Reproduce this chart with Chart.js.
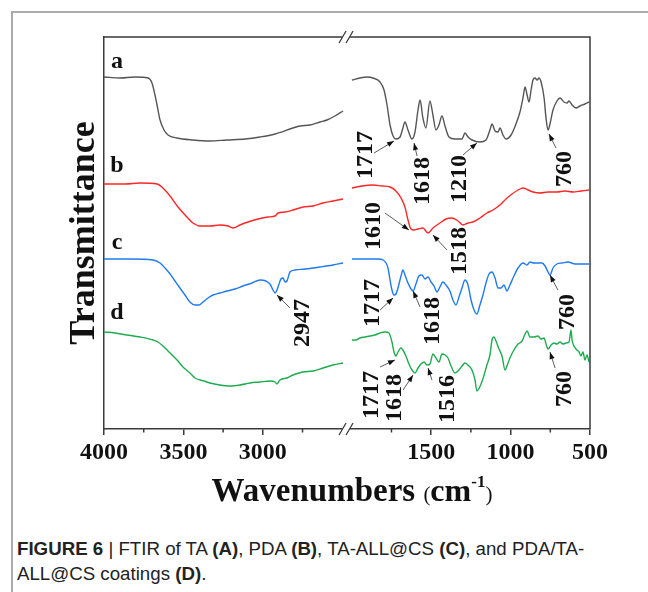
<!DOCTYPE html>
<html><head><meta charset="utf-8">
<script src="https://cdn.jsdelivr.net/npm/chart.js@4/dist/chart.umd.min.js"></script>
<style>
html,body{margin:0;padding:0;background:#fff;}
body{width:648px;height:592px;position:relative;overflow:hidden;}
#frame{position:absolute;left:11px;top:11px;width:660px;height:600px;border-left:2px solid #ababab;border-top:2px solid #ababab;}
#wrap{position:absolute;left:0;top:0;width:648px;height:520px;}
#caption{position:absolute;left:17px;top:536px;width:620px;font-family:"Liberation Sans",Arial,sans-serif;font-size:18.7px;line-height:25px;color:#222;white-space:nowrap;}
</style></head>
<body>
<div id="frame"></div>
<div id="wrap"><canvas id="c" width="648" height="520"></canvas></div>
<div id="caption"><b>FIGURE 6</b> | FTIR of TA <b>(A)</b>, PDA <b>(B)</b>, TA-ALL@CS <b>(C)</b>, and PDA/TA-<br>ALL@CS coatings <b>(D)</b>.</div>
<script>
// ---- tick labels (wavenumbers, cm-1) ----
const majorTicks = [4000, 3500, 3000, 1500, 1000, 500];
const minorTicks = [3750, 3250, 2750, 1750, 1250, 750];
const seriesNames = ['a', 'b', 'c', 'd'];

// ---- series a (TA) ----
const wnA = [4000,3899,3805,3723,3698,3679,3666,3647,3622,3597,
  3540,3440,3333,3226,3112,3018,2923,2810,2766,2703,
  2640,2596,2546,2495,
  1999,1948,1904,1866,1822,1797,1778,1759,1740,1722,
  1696,1678,1665,1646,1621,1602,1583,1570,1552,1533,
  1508,1489,1470,1451,1432,1413,1388,1350,1306,1287,
  1268,1243,1193,1155,1130,1117,1098,1079,1067,1048,
  1029,997,966,941,922,909,896,884,871,859,
  846,833,821,808,789,777,764,752,733,708,
  689,664,645,632,613,588,563,532,506];
const tA = [352,351,352,351,346,334,324,309,299,294,
  291,289,288,289,290,292,295,301,303,304,
  307,309,313,318,
  349,351,352,351,347,339,324,304,293,290,
  292,301,307,299,290,297,319,329,311,301,
  328,314,299,304,313,303,292,290,290,296,
  292,289,287,289,299,305,298,297,301,294,
  290,294,305,317,331,342,334,327,339,349,
  351,349,351,347,331,311,299,305,319,328,
  331,327,326,328,324,321,323,325,327];

// ---- series b (PDA) ----
const wnB = [4000,3868,3773,3666,3629,3584,3534,3484,3440,3396,
  3333,3270,3219,3188,3144,3093,3030,2967,2923,2904,
  2860,2810,2747,2684,2621,2558,2495,
  1999,1936,1866,1810,1759,1722,1690,1665,1646,1627,
  1608,1583,1552,1520,1489,1445,1407,1369,1331,1300,
  1268,1237,1193,1149,1111,1067,1029,991,953,922,
  890,859,815,764,708,658,607,557,506];
const tB = [245,245,246,245,241,233,222,213,206,203,
  203,204,203,201,204,207,210,212,213,216,
  217,219,222,223,226,228,230,
  241,243,244,243,242,238,231,222,209,200,
  199,200,201,196,201,206,210,211,208,204,
  206,207,211,216,219,224,230,235,239,241,
  239,237,236,237,237,238,237,238,239];

// ---- series c (TA-ALL@CS) ----
const wnC = [4000,3836,3691,3647,3616,3584,3553,3522,3490,3459,
  3427,3402,3377,3345,3314,3270,3226,3175,3125,3068,
  3018,2980,2955,2936,2923,2911,2898,2886,2873,2860,
  2848,2829,2797,2734,2640,2558,2495,
  1999,1917,1835,1803,1784,1772,1759,1747,1734,1722,
  1709,1690,1678,1665,1646,1627,1614,1596,1577,1558,
  1539,1520,1501,1482,1463,1445,1426,1407,1382,1363,
  1344,1325,1306,1287,1268,1249,1230,1212,1193,1174,
  1155,1136,1117,1098,1079,1060,1042,1023,1004,979,
  953,922,897,878,853,827,802,783,764,752,
  733,708,676,638,594,550,506];
const tC = [170,170,169,166,161,155,148,141,134,127,
  124,124,127,131,134,136,138,140,143,146,
  149,148,145,139,136,139,145,150,151,147,
  148,157,159,160,162,164,166,
  170,170,170,169,166,161,149,139,134,135,
  141,153,159,154,146,140,138,145,153,154,
  150,152,147,143,137,142,147,144,138,129,
  124,132,141,149,144,129,119,115,124,134,
  146,155,157,151,141,141,144,138,144,153,
  161,166,164,167,166,166,166,163,157,154,
  161,165,166,167,165,165,165];

// ---- series d (PDA/TA-ALL@CS) ----
const wnD = [4000,3931,3855,3773,3691,3660,3629,3584,3540,3503,
  3459,3427,3370,3333,3270,3207,3144,3081,3018,2955,
  2923,2911,2892,2848,2810,2747,2684,2621,2558,2495,
  1999,1973,1948,1917,1885,1854,1822,1791,1766,1747,
  1734,1722,1709,1690,1678,1659,1640,1621,1602,1583,
  1564,1545,1526,1508,1489,1470,1451,1432,1413,1394,
  1375,1350,1325,1306,1287,1262,1243,1224,1212,1186,
  1167,1149,1130,1117,1105,1092,1073,1054,1035,1023,
  1004,979,953,928,909,896,878,853,827,809,
  789,777,764,745,727,708,689,670,651,632,
  620,613,601,582,569,557,544,532,519,506];
const tD = [97,96,94,92,89,87,83,76,69,62,
  56,51,48,46,44,43,44,46,47,48,
  47,45,49,51,54,57,58,61,64,66,
  89,89,91,92,93,94,96,97,96,87,
  77,73,77,81,79,73,65,59,56,61,
  65,67,64,65,75,71,67,75,74,71,
  63,56,59,63,66,63,59,49,38,45,
  54,64,74,89,92,88,80,73,59,63,
  71,79,85,88,95,98,92,92,93,90,
  91,85,80,84,86,85,87,85,86,87,
  99,89,83,79,77,73,77,69,74,67];

// ---- peak annotations: label, arrow tip, arrow tail, label centre (wavenumber, transmittance units) ----
const annotationLayout = [
  {text:'1717', tip:[1734,288], from:[1860,276], at:[1917,274]},
  {text:'1618', tip:[1608,286], from:[1589,273], at:[1561,248]},
  {text:'1210', tip:[1212,286], from:[1300,274], at:[1328,250]},
  {text:'760',  tip:[758,295],  from:[714,281],  at:[667,260]},
  {text:'1610', tip:[1640,199], from:[1791,216], at:[1866,203]},
  {text:'1518', tip:[1489,194], from:[1400,179], at:[1328,178]},
  {text:'2947', tip:[2911,134], from:[2829,121], at:[2757,106]},
  {text:'1717', tip:[1740,131], from:[1822,119], at:[1873,126]},
  {text:'1618', tip:[1614,138], from:[1570,122], at:[1498,108]},
  {text:'760',  tip:[752,154],  from:[702,139],  at:[648,117]},
  {text:'1717', tip:[1728,69],  from:[1822,62],  at:[1879,34]},
  {text:'1618', tip:[1614,54],  from:[1677,39],  at:[1737,31]},
  {text:'1516', tip:[1520,61],  from:[1495,49],  at:[1404,30]},
  {text:'760',  tip:[752,77],   from:[720,61],   at:[667,40]}
];
const seriesLabelLayout = {wn: 3918, t: [361, 257, 180, 110]};

// broken axis: 4000-2500 on the left, 2000-500 on the right
const GAP = 60;
function toU(w){ return w > 2250 ? 4000 - w : 3500 + GAP - w; }
function fromU(u){ return u <= 1500 ? 4000 - u : 3500 + GAP - u; }
function build(wn, t){
  const out = [];
  for (let i = 0; i < wn.length; i++){
    if (i > 0 && wn[i-1] > 2250 && wn[i] <= 2250) out.push({x: 1530, y: null});
    out.push({x: toU(wn[i]), y: t[i]});
  }
  return out;
}

const SERIF = '"Liberation Serif","Times New Roman",serif';
const AX = '#3a3a3a';

const decor = {
  id: 'decor',
  afterDraw(chart){
    const ctx = chart.ctx, ca = chart.chartArea;
    const xs = chart.scales.x, ys = chart.scales.y;
    const px = w => xs.getPixelForValue(toU(w));
    const py = v => ys.getPixelForValue(v);
    ctx.save();
    // top & right frame of the plot box
    ctx.strokeStyle = AX; ctx.lineWidth = 1.5;
    ctx.beginPath();
    ctx.moveTo(ca.left, ca.top); ctx.lineTo(ca.right, ca.top); ctx.lineTo(ca.right, ca.bottom);
    ctx.stroke();
    // minor ticks
    ctx.beginPath();
    minorTicks.forEach(w => { const x = px(w); ctx.moveTo(x, ca.bottom); ctx.lineTo(x, ca.bottom + 3.5); });
    ctx.stroke();
    // axis breaks
    const cx = xs.getPixelForValue(1500 + GAP/2 - 6);
    [ca.top, ca.bottom].forEach(y => {
      ctx.fillStyle = '#fff';
      ctx.fillRect(cx - 4, y - 2, 8, 4);
      ctx.strokeStyle = AX; ctx.lineWidth = 1.3;
      ctx.beginPath();
      ctx.moveTo(cx - 7, y + 6); ctx.lineTo(cx, y - 6);
      ctx.moveTo(cx, y + 6); ctx.lineTo(cx + 7, y - 6);
      ctx.stroke();
    });
    // series labels
    ctx.fillStyle = '#111';
    ctx.font = 'bold 24px ' + SERIF;
    ctx.textAlign = 'center'; ctx.textBaseline = 'alphabetic';
    seriesNames.forEach((s, i) => ctx.fillText(s, px(seriesLabelLayout.wn), py(seriesLabelLayout.t[i])));
    // annotations
    annotationLayout.forEach(a => {
      const x1 = px(a.from[0]), y1 = py(a.from[1]);
      const x2 = px(a.tip[0]), y2 = py(a.tip[1]);
      ctx.strokeStyle = '#333'; ctx.lineWidth = 0.8;
      ctx.beginPath(); ctx.moveTo(x1, y1); ctx.lineTo(x2, y2); ctx.stroke();
      const ang = Math.atan2(y2 - y1, x2 - x1), L = 7, W = 2.6;
      ctx.fillStyle = '#111';
      ctx.beginPath();
      ctx.moveTo(x2, y2);
      ctx.lineTo(x2 - L*Math.cos(ang) + W*Math.sin(ang), y2 - L*Math.sin(ang) - W*Math.cos(ang));
      ctx.lineTo(x2 - L*Math.cos(ang) - W*Math.sin(ang), y2 - L*Math.sin(ang) + W*Math.cos(ang));
      ctx.closePath(); ctx.fill();
      ctx.save();
      ctx.translate(px(a.at[0]), py(a.at[1]));
      ctx.rotate(-Math.PI/2);
      ctx.font = 'bold 24px ' + SERIF;
      ctx.textAlign = 'center'; ctx.textBaseline = 'middle';
      ctx.fillText(a.text, 0, 1);
      ctx.restore();
    });
    // x axis title
    const parts = [
      {t:'Wavenumbers ', f:'bold 33px ' + SERIF, dy:0},
      {t:'(', f:'21px ' + SERIF, dy:0},
      {t:'cm', f:'bold 32px ' + SERIF, dy:0},
      {t:'-1', f:'bold 17px ' + SERIF, dy:-14},
      {t:')', f:'21px ' + SERIF, dy:0}
    ];
    let total = 0;
    parts.forEach(p => { ctx.font = p.f; p.w = ctx.measureText(p.t).width; total += p.w; });
    let x = 352 - total/2; const base = ca.bottom + 72;
    ctx.textAlign = 'left'; ctx.textBaseline = 'alphabetic'; ctx.fillStyle = '#111';
    parts.forEach(p => { ctx.font = p.f; ctx.fillText(p.t, x, base + p.dy); x += p.w; });
    ctx.restore();
  }
};

const mk = (label, wn, t, color) => ({
  label, data: build(wn, t), borderColor: color, borderWidth: 1.4,
  pointRadius: 0, fill: false, spanGaps: false, cubicInterpolationMode: 'monotone'
});

new Chart(document.getElementById('c'), {
  type: 'line',
  data: { datasets: [
    mk('a', wnA, tA, '#555555'),
    mk('b', wnB, tB, '#ff2626'),
    mk('c', wnC, tC, '#1f7af0'),
    mk('d', wnD, tD, '#1fab4f')
  ]},
  options: {
    responsive: false, animation: false, devicePixelRatio: 1,
    layout: { padding: { left: 0, top: 37, right: 58, bottom: 0 } },
    plugins: { legend: { display: false }, tooltip: { enabled: false } },
    scales: {
      x: {
        type: 'linear', min: 0, max: 3000 + GAP, position: 'bottom',
        afterBuildTicks: s => { s.ticks = majorTicks.map(w => ({ value: toU(w) })); },
        afterFit: s => { s.height = 91; },
        border: { display: true, color: AX, width: 1.5 },
        grid: { display: true, drawOnChartArea: false, drawTicks: true, tickLength: 6, color: AX, lineWidth: 1.5 },
        ticks: { autoSkip: false, maxRotation: 0, padding: 3, color: '#111',
          font: { family: SERIF, size: 24, weight: 'bold' },
          callback: v => String(Math.round(fromU(v))) }
      },
      y: {
        min: 0, max: 392,
        afterFit: s => { s.width = 104; },
        border: { display: true, color: AX, width: 1.5 },
        grid: { display: false },
        ticks: { display: false },
        title: { display: true, text: 'Transmittance', color: '#111',
          font: { family: SERIF, size: 36, weight: 'bold', lineHeight: 1 },
          padding: { top: 67, bottom: 0 } }
      }
    }
  },
  plugins: [decor]
});
</script>
</body></html>
